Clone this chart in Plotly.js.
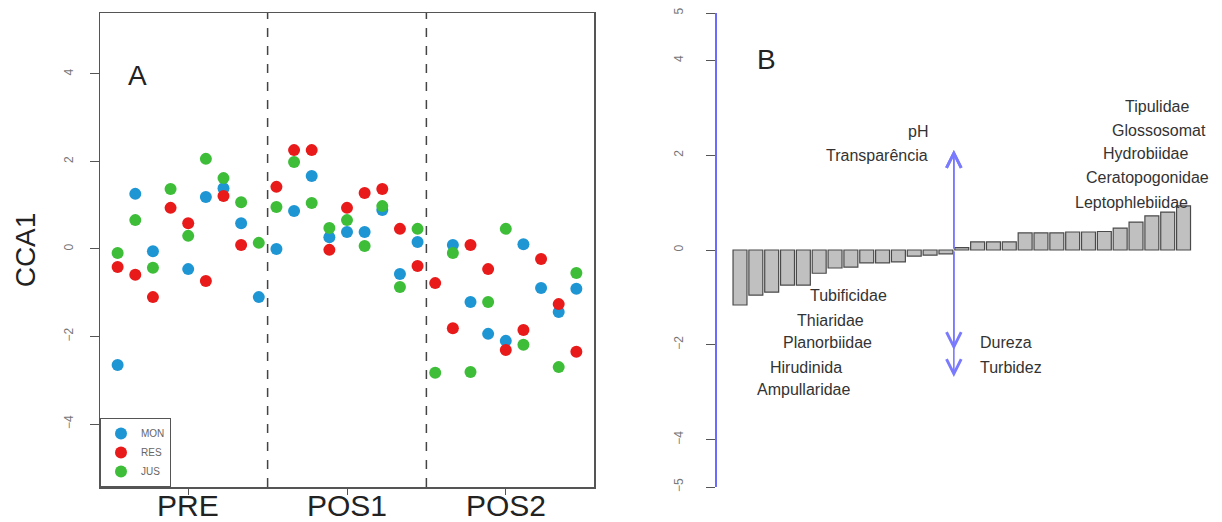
<!DOCTYPE html>
<html><head><meta charset="utf-8">
<script src="https://cdn.plot.ly/plotly-3.0.1.min.js"></script>
<style>html,body{margin:0;padding:0;background:#fff}#chart{width:1222px;height:522px}</style>
</head><body><div id="chart"></div>
<script>
// ---------- Panel A data ----------
const sampleIndex = [1,2,3,4,5,6,7,8,9,10,11,12,13,14,15,16,17,18,19,20,21,22,23,24,25,26,27];
const groupLabels = ['PRE','POS1','POS2'];
const groupTickPos = [5,14,23];
const groupBreaks = [9.5,18.5];
const MON = [-2.65,1.26,-0.05,null,-0.46,1.19,1.39,0.59,-1.10, 0.00,0.87,1.67,0.27,0.39,0.39,0.89,-0.57,0.16, null,0.09,-1.21,-1.94,-2.10,0.11,-0.89,-1.44,-0.91];
const RES = [-0.41,-0.59,-1.10,0.94,0.59,-0.73,1.21,0.09,null, 1.42,2.26,2.26,-0.02,0.94,1.28,1.37,0.46,-0.39, -0.78,-1.81,0.09,-0.46,-2.31,-1.85,-0.23,-1.26,-2.35];
const JUS = [-0.09,0.66,-0.43,1.37,0.30,2.06,1.62,1.07,0.14, 0.96,1.99,1.05,0.48,0.66,0.07,0.98,-0.87,0.46, -2.83,-0.09,-2.81,-1.21,0.46,-2.19,null,-2.70,-0.55];
const seriesNames = ['MON','RES','JUS'];
const yTicksA = [-4,-2,0,2,4];

// ---------- Panel B data ----------
const barIndex = [1,2,3,4,5,6,7,8,9,10,11,12,13,14,15,16,17,18,19,20,21,22,23,24,25,26,27,28,29];
const barValues = [-1.16,-0.95,-0.89,-0.74,-0.74,-0.49,-0.38,-0.36,-0.27,-0.27,-0.25,-0.13,-0.11,-0.08,
                   0.05,0.17,0.17,0.17,0.36,0.36,0.36,0.38,0.38,0.39,0.46,0.59,0.72,0.80,0.93];
const envNames = ['pH','Transparência','Dureza','Turbidez'];
const envValues = [2.11,2.11,-2.11,-2.68];
const envAxisPos = 14.5;
const taxaNames = ['Tipulidae','Glossosomat','Hydrobiidae','Ceratopogonidae','Leptophlebiidae',
                   'Tubificidae','Thiaridae','Planorbiidae','Hirudinida','Ampullaridae'];
const yTicksB = [-5,-4,-2,0,2,4,5];

// ---------- layout helpers (positions/styles) ----------
const W = 1222, H = 522;
const px = v => v / W;
const pyb = v => (H - v) / H;
const colors = ['#1e96d4','#e81a1a','#3dbd38'];
const FAM = 'Liberation Sans, Arial, sans-serif';
const txtFont = {family:FAM, size:16, color:'#333'};

const traces = [MON, RES, JUS].map((ys, k) => ({
  type:'scatter', mode:'markers', x: sampleIndex, y: ys, name: seriesNames[k],
  xaxis:'x', yaxis:'y',
  marker:{size:12, color:colors[k]}
}));
traces.push({
  type:'bar', x: barIndex, y: barValues, xaxis:'x2', yaxis:'y2', showlegend:false,
  marker:{color:'#c0c0c0', line:{color:'#4a4a4a', width:1.2}}, width:0.88
});

// label placements (bar-index units, value units)
const taxaPos = [
  {x:29.47,y:3.02,xa:'right'},{x:30.55,y:2.53,xa:'right'},{x:29.4,y:2.03,xa:'right'},
  {x:22.7,y:1.52,xa:'left'},{x:29.4,y:1.01,xa:'right'},
  {x:5.29,y:-0.97,xa:'left'},{x:4.47,y:-1.48,xa:'left'},{x:3.59,y:-1.96,xa:'left'},
  {x:2.77,y:-2.47,xa:'left'},{x:1.95,y:-2.95,xa:'left'}
];
const envPos = [
  {x:13.0,y:2.51,xa:'right'},{x:13.0,y:2.0,xa:'right'},
  {x:16.03,y:-1.96,xa:'left'},{x:16.03,y:-2.47,xa:'left'}
];

const annotations = [];
taxaNames.forEach((t,i)=>annotations.push({xref:'x2',yref:'y2',x:taxaPos[i].x,y:taxaPos[i].y,
  text:t,showarrow:false,xanchor:taxaPos[i].xa,yanchor:'middle',font:txtFont}));
envNames.forEach((t,i)=>annotations.push({xref:'x2',yref:'y2',x:envPos[i].x,y:envPos[i].y,
  text:t,showarrow:false,xanchor:envPos[i].xa,yanchor:'middle',font:txtFont}));
envValues.forEach(v=>annotations.push({xref:'x2',yref:'y2',axref:'x2',ayref:'y2',
  x:envAxisPos,y:v,ax:envAxisPos,ay:0,text:'',showarrow:true,arrowhead:5,arrowsize:1.8,
  arrowwidth:1.6,arrowcolor:'#7a7aff'}));
groupLabels.forEach((g,i)=>annotations.push({xref:'x',yref:'paper',x:groupTickPos[i],y:pyb(505),
  text:g,showarrow:false,xanchor:'center',yanchor:'middle',font:{family:FAM,size:30,color:'#222'}}));
annotations.push({xref:'paper',yref:'paper',x:px(126),y:pyb(75),text:'A',showarrow:false,
  xanchor:'left',yanchor:'middle',font:{family:FAM,size:28,color:'#222'}});
annotations.push({xref:'paper',yref:'paper',x:px(755),y:pyb(60),text:'B',showarrow:false,
  xanchor:'left',yanchor:'middle',font:{family:FAM,size:28,color:'#222'}});

const shapes = groupBreaks.map(b=>({type:'line',xref:'x',yref:'y domain',x0:b,x1:b,y0:0,y1:1,
  line:{color:'#444',width:1.5,dash:'dash'}}));

const layout = {
  width:W, height:H, margin:{l:0,r:0,t:0,b:0}, paper_bgcolor:'#fff', plot_bgcolor:'#fff',
  font:{family:FAM},
  showlegend:true,
  legend:{x:px(100),y:pyb(487),xanchor:'left',yanchor:'bottom',bgcolor:'#fff',
    bordercolor:'#555',borderwidth:1,font:{size:10,color:'#666'},tracegroupgap:0,itemwidth:30},
  xaxis:{domain:[px(100),px(594)],range:[0,28],showgrid:false,zeroline:false,
    showline:true,mirror:true,linecolor:'#555',linewidth:1.5,
    tickmode:'array',tickvals:groupTickPos,ticktext:groupLabels,showticklabels:false,
    ticks:'outside',ticklen:6,tickcolor:'#555'},
  yaxis:{domain:[pyb(487),pyb(13)],range:[-5.44,5.394],showgrid:false,zeroline:false,
    showline:true,mirror:true,linecolor:'#555',linewidth:1.5,
    tickmode:'array',tickvals:yTicksA,ticks:'outside',ticklen:9,tickcolor:'#555',
    tickangle:-90,tickfont:{size:12,color:'#777'},ticklabelstandoff:12,
    title:{text:'CCA1',font:{size:28,color:'#222'},standoff:18}},
  xaxis2:{domain:[px(715),px(1210)],range:[-0.578,30.67],visible:false,anchor:'y2'},
  yaxis2:{domain:[pyb(487),pyb(13)],range:[-5,5],anchor:'free',position:px(715),
    showgrid:false,zeroline:false,showline:true,linecolor:'#6b6bff',linewidth:1.8,
    tickmode:'array',tickvals:yTicksB,ticks:'outside',ticklen:9,tickcolor:'#555',
    tickangle:-90,tickfont:{size:12,color:'#777'},ticklabelstandoff:18},
  annotations, shapes
};

Plotly.newPlot('chart', traces, layout, {displayModeBar:false, staticPlot:true});
</script></body></html>
